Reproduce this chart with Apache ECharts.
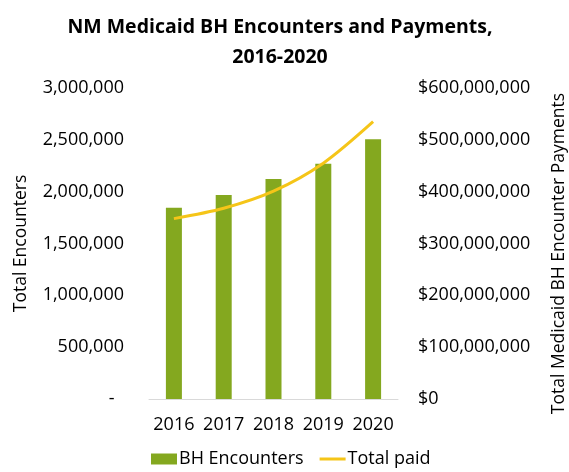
<!DOCTYPE html>
<html>
<head>
<meta charset="utf-8">
<script src="https://cdn.jsdelivr.net/npm/echarts@6/dist/echarts.min.js"></script>
<style>html,body{margin:0;padding:0;background:#fff}#c{width:569px;height:472px}</style>
</head>
<body>
<div id="c"></div>
<script>
const categories = ['2016', '2017', '2018', '2019', '2020'];
const encounters = [1845000, 1968000, 2122000, 2270000, 2505000];
const totalPaid = [348000000, 368000000, 401000000, 455000000, 535000000];
const leftTicks = [0, 500000, 1000000, 1500000, 2000000, 2500000, 3000000];
const rightTicks = [0, 100000000, 200000000, 300000000, 400000000, 500000000, 600000000];

const FONT = 'Open Sans';
const fmt = v => v.toLocaleString('en-US');
const chart = echarts.init(document.getElementById('c'));
chart.setOption({
  animation: false,
  textStyle: { fontFamily: FONT },
  title: {
    text: 'NM Medicaid BH Encounters and Payments,\n2016-2020',
    left: 275, top: 7, textAlign: 'center',
    textStyle: { fontFamily: FONT, fontSize: 19.5, fontWeight: 'bold', color: '#000', lineHeight: 30 }
  },
  grid: { left: 149, right: 164, top: 88, bottom: 73, containLabel: false },
  legend: {
    bottom: -1, left: 146, itemGap: 16,
    itemWidth: 26, itemHeight: 11,
    textStyle: { fontFamily: FONT, fontSize: 18, color: '#000', padding: [0, 0, 0, -3] },
    data: [
      { name: 'BH Encounters', icon: 'rect' },
      { name: 'Total paid', icon: 'path://M0,0H26V3H0Z' }
    ]
  },
  xAxis: {
    type: 'category', data: categories,
    axisLine: { lineStyle: { color: '#d9d9d9', width: 1 } },
    axisTick: { show: false },
    axisLabel: { fontFamily: FONT, fontSize: 18, color: '#000', margin: 17, interval: 0 }
  },
  yAxis: [
    {
      type: 'value', min: leftTicks[0], max: leftTicks[leftTicks.length - 1], interval: leftTicks[1] - leftTicks[0],
      name: 'Total Encounters', nameLocation: 'middle', nameGap: 119,
      nameTextStyle: { fontFamily: FONT, fontSize: 17.5, color: '#000' },
      axisLine: { show: false }, axisTick: { show: false }, splitLine: { show: false },
      axisLabel: { fontFamily: FONT, fontSize: 18, color: '#000', margin: 25,
        formatter: v => v === 0 ? '-  ' : fmt(v) }
    },
    {
      type: 'value', min: rightTicks[0], max: rightTicks[rightTicks.length - 1], interval: rightTicks[1] - rightTicks[0],
      name: 'Total Medicaid BH Encounter Payments', nameLocation: 'middle', nameGap: 152,
      nameTextStyle: { fontFamily: FONT, fontSize: 17.5, color: '#000', padding: [0, 20, 0, 0] },
      axisLine: { show: false }, axisTick: { show: false }, splitLine: { show: false },
      axisLabel: { fontFamily: FONT, fontSize: 18, color: '#000', margin: 20,
        formatter: v => '$' + fmt(v) }
    }
  ],
  series: [
    {
      name: 'BH Encounters', type: 'bar', data: encounters, yAxisIndex: 0,
      barWidth: 16, itemStyle: { color: '#84a81f' }
    },
    {
      name: 'Total paid', type: 'line', data: totalPaid, yAxisIndex: 1,
      smooth: 0.3, symbol: 'none', lineStyle: { color: '#f5c518', width: 3 }, itemStyle: { color: '#f5c518' }
    }
  ]
});
</script>
</body>
</html>
